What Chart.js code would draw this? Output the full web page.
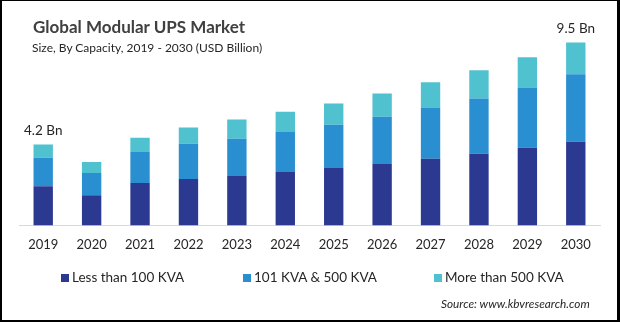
<!DOCTYPE html>
<html>
<head>
<meta charset="utf-8">
<script src="https://cdn.jsdelivr.net/npm/chart.js@4"></script>
<style>
  body { margin: 0; background: #fff; font-family: Lato, "Open Sans", sans-serif; }
  #wrap { position: relative; width: 620px; height: 322px; overflow: hidden; }
  #chart { position: absolute; left: 0; top: 0; }
  .frame { position: absolute; left: 0; top: 0; width: 620px; height: 322px; box-sizing: border-box;
           border-style: solid; border-color: #000; border-width: 1px 3px 2px 2px; pointer-events: none; }
  .title { position: absolute; left: 33px; top: 17px; font-size: 17px; font-weight: bold; color: #404040; line-height: 20px; white-space: nowrap; }
  .subtitle { position: absolute; left: 32px; top: 40px; font-size: 12px; color: #262626; line-height: 16px; white-space: nowrap; }
  #legend { position: absolute; left: 61px; top: 269px; font-size: 13.5px; color: #262626; line-height: 16px; white-space: nowrap; }
  #legend span.item { position: absolute; top: 0; }
  #legend i { display: inline-block; width: 8px; height: 8px; margin-right: 3px; vertical-align: 0px; }
  .source { position: absolute; left: 441px; top: 296px; font-size: 11.8px; font-style: italic; color: #262626; line-height: 16px; white-space: nowrap; }
</style>
</head>
<body>
<div id="wrap">
  <canvas id="chart" width="620" height="322"></canvas>
  <div class="title">Global Modular UPS Market</div>
  <div class="subtitle">Size, By Capacity, 2019 - 2030 (USD Billion)</div>
  <div id="legend"></div>
  <div class="source">Source: www.kbvresearch.com</div>
  <div class="frame"></div>
</div>
<script>
// values, USD billion
const years = ["2019", "2020", "2021", "2022", "2023", "2024", "2025", "2026", "2027", "2028", "2029", "2030"];
const lessThan100 = [2.04, 1.57, 2.20, 2.41, 2.57, 2.77, 2.98, 3.19, 3.46, 3.72, 4.03, 4.35];
const kva101to500 = [1.47, 1.15, 1.62, 1.83, 1.94, 2.09, 2.25, 2.46, 2.67, 2.88, 3.14, 3.51];
const moreThan500 = [0.69, 0.58, 0.73, 0.85, 0.99, 1.05, 1.10, 1.20, 1.31, 1.47, 1.57, 1.64];
const totalLabels = ["4.2 Bn", "", "", "", "", "", "", "", "", "", "", "9.5 Bn"];

const seriesNames = ["Less than 100 KVA", "101 KVA & 500 KVA", "More than 500 KVA"];
const seriesColors = ["#2b3990", "#2a8fd0", "#4fc1cf"];
const legendOffsets = [0, 182, 373];

// legend
const legendEl = document.getElementById("legend");
seriesNames.forEach((name, i) => {
    const item = document.createElement("span");
    item.className = "item";
    item.style.left = legendOffsets[i] + "px";
    item.innerHTML = '<i style="background:' + seriesColors[i] + '"></i>' + name;
    legendEl.appendChild(item);
});

// "x Bn" text above the first and last stacks
const totalsPlugin = {
    id: "totals",
    afterDatasetsDraw(chart) {
        const ctx = chart.ctx;
        const topMeta = chart.getDatasetMeta(chart.data.datasets.length - 1);
        ctx.save();
        ctx.font = "13.5px Lato, 'Open Sans', sans-serif";
        ctx.fillStyle = "#262626";
        ctx.textAlign = "center";
        ctx.textBaseline = "bottom";
        totalLabels.forEach((txt, i) => {
            if (!txt) return;
            const bar = topMeta.data[i];
            ctx.fillText(txt, bar.x, bar.y - 7);
        });
        ctx.restore();
    }
};

const ctx = document.getElementById("chart").getContext("2d");
const chart = new Chart(ctx, {
    type: "bar",
    data: {
        labels: years,
        datasets: [
            { label: seriesNames[0], data: lessThan100, backgroundColor: seriesColors[0] },
            { label: seriesNames[1], data: kva101to500, backgroundColor: seriesColors[1] },
            { label: seriesNames[2], data: moreThan500, backgroundColor: seriesColors[2] }
        ]
    },
    options: {
        responsive: false,
        animation: false,
        layout: { padding: { top: 33, left: 19, right: 20, bottom: 57 } },
        datasets: { bar: { categoryPercentage: 1, barPercentage: 0.4 } },
        plugins: {
            legend: { display: false },
            tooltip: { enabled: false }
        },
        scales: {
            x: {
                stacked: true,
                grid: { display: false, drawTicks: false },
                border: { display: true, color: "#d9d9d9", width: 1 },
                ticks: { color: "#262626", padding: 12, font: { family: "Lato", size: 13 } }
            },
            y: {
                stacked: true,
                display: false,
                min: 0,
                max: 10
            }
        }
    },
    plugins: [totalsPlugin]
});
</script>
</body>
</html>
